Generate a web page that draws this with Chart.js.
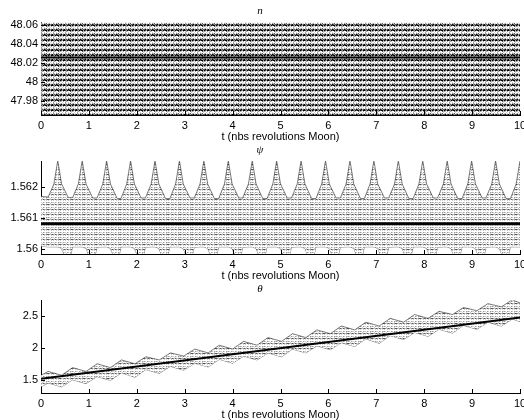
<!DOCTYPE html>
<html>
<head>
<meta charset="utf-8">
<script src="https://cdn.jsdelivr.net/npm/chart.js@4"></script>
<style>
html, body { margin: 0; width: 524px; height: 420px; overflow: hidden; background: #fff; }
.plot { position: absolute; left: 0; width: 524px; height: 142px; }
</style>
</head>
<body>
<div class="plot" style="top:0"><canvas id="c1" width="524" height="142"></canvas></div>
<div class="plot" style="top:139px"><canvas id="c2" width="524" height="142"></canvas></div>
<div class="plot" style="top:278px"><canvas id="c3" width="524" height="142"></canvas></div>
<script>
var xTitle = 't (nbs revolutions Moon)';
var xTicks = [0, 1, 2, 3, 4, 5, 6, 7, 8, 9, 10];
var meanT = [0, 10];

// n : band covers the whole axis
var nT = [0, 10];
var nUpper = [48.063, 48.063];
var nLower = [47.965, 47.965];
var nMean = [48.0256, 48.0256];
var nTicks = [47.98, 48, 48.02, 48.04, 48.06];

// psi : envelope of the oscillation (spikes on top, dips below)
var psiT = [0,
  0.15, 0.27, 0.35, 0.43, 0.57,
  0.66, 0.78, 0.86, 0.94, 1.08,
  1.17, 1.29, 1.37, 1.45, 1.59,
  1.67, 1.79, 1.87, 1.95, 2.09,
  2.18, 2.30, 2.38, 2.46, 2.60,
  2.69, 2.81, 2.89, 2.97, 3.11,
  3.20, 3.32, 3.40, 3.48, 3.62,
  3.71, 3.83, 3.91, 3.99, 4.13,
  4.21, 4.33, 4.41, 4.49, 4.63,
  4.72, 4.84, 4.92, 5.00, 5.14,
  5.23, 5.35, 5.43, 5.51, 5.65,
  5.74, 5.86, 5.94, 6.02, 6.16,
  6.25, 6.37, 6.45, 6.53, 6.67,
  6.75, 6.87, 6.95, 7.03, 7.17,
  7.26, 7.38, 7.46, 7.54, 7.68,
  7.77, 7.89, 7.97, 8.05, 8.19,
  8.28, 8.40, 8.48, 8.56, 8.70,
  8.79, 8.91, 8.99, 9.07, 9.21,
  9.29, 9.41, 9.49, 9.57, 9.71,
  9.80, 9.92, 10.0];
var psiUpper = [1.5617,
  1.56168, 1.5621, 1.56285, 1.5621, 1.56166,
  1.56166, 1.5621, 1.56285, 1.5621, 1.56165,
  1.56165, 1.5621, 1.56285, 1.5621, 1.56163,
  1.56163, 1.5621, 1.56285, 1.5621, 1.56165,
  1.56165, 1.5621, 1.56285, 1.5621, 1.56163,
  1.56163, 1.5621, 1.56285, 1.5621, 1.56165,
  1.56165, 1.5621, 1.56285, 1.5621, 1.56163,
  1.56163, 1.5621, 1.56285, 1.5621, 1.56165,
  1.56165, 1.5621, 1.56285, 1.5621, 1.56163,
  1.56163, 1.5621, 1.56285, 1.5621, 1.56165,
  1.56165, 1.5621, 1.56285, 1.5621, 1.56163,
  1.56163, 1.5621, 1.56285, 1.5621, 1.56165,
  1.56165, 1.5621, 1.56285, 1.5621, 1.56163,
  1.56163, 1.5621, 1.56285, 1.5621, 1.56165,
  1.56165, 1.5621, 1.56285, 1.5621, 1.56163,
  1.56163, 1.5621, 1.56285, 1.5621, 1.56165,
  1.56165, 1.5621, 1.56285, 1.5621, 1.56163,
  1.56163, 1.5621, 1.56285, 1.5621, 1.56165,
  1.56165, 1.5621, 1.56285, 1.5621, 1.56163,
  1.56163, 1.5621, 1.56285];
var psiLower = [1.5601,
  1.56008, 1.56008, 1.56008, 1.56003, 1.5595,
  1.56008, 1.56008, 1.56008, 1.56003, 1.5595,
  1.56007, 1.56008, 1.56008, 1.56003, 1.5595,
  1.56008, 1.56008, 1.56008, 1.56003, 1.5595,
  1.56007, 1.56008, 1.56008, 1.56003, 1.5595,
  1.56008, 1.56008, 1.56008, 1.56003, 1.5595,
  1.56007, 1.56008, 1.56008, 1.56003, 1.5595,
  1.56008, 1.56008, 1.56008, 1.56003, 1.5595,
  1.56007, 1.56008, 1.56008, 1.56003, 1.5595,
  1.56008, 1.56008, 1.56008, 1.56003, 1.5595,
  1.56007, 1.56008, 1.56008, 1.56003, 1.5595,
  1.56008, 1.56008, 1.56008, 1.56003, 1.5595,
  1.56007, 1.56008, 1.56008, 1.56003, 1.5595,
  1.56008, 1.56008, 1.56008, 1.56003, 1.5595,
  1.56007, 1.56008, 1.56008, 1.56003, 1.5595,
  1.56008, 1.56008, 1.56008, 1.56003, 1.5595,
  1.56007, 1.56008, 1.56008, 1.56003, 1.5595,
  1.56008, 1.56008, 1.56008, 1.56003, 1.5595,
  1.56007, 1.56008, 1.56008, 1.56003, 1.5595,
  1.56008, 1.56008, 1.56008];
var psiMean = [1.56082, 1.56082];
var psiTicks = [1.56, 1.561, 1.562];

// theta : wavy band drifting upward
var thetaT = [0, 0.15, 0.43, 0.66, 0.94, 1.17, 1.45, 1.68, 1.96, 2.19, 2.47, 2.70, 2.98, 3.21, 3.49, 3.72,
  4.00, 4.23, 4.51, 4.74, 5.02, 5.25, 5.53, 5.76, 6.04, 6.27, 6.55, 6.78, 7.06, 7.29, 7.57, 7.80,
  8.08, 8.31, 8.59, 8.82, 9.10, 9.33, 9.61, 9.84, 10];
var thetaUpper = [1.57, 1.63, 1.57, 1.69, 1.63, 1.75, 1.69, 1.81, 1.75, 1.86, 1.81, 1.92, 1.87, 1.98, 1.92, 2.04,
  1.98, 2.10, 2.04, 2.16, 2.10, 2.22, 2.16, 2.28, 2.22, 2.34, 2.28, 2.40, 2.34, 2.46, 2.40, 2.52,
  2.46, 2.57, 2.52, 2.63, 2.58, 2.69, 2.64, 2.75, 2.70];
var thetaLower = [1.39, 1.45, 1.39, 1.50, 1.44, 1.55, 1.49, 1.61, 1.54, 1.66, 1.60, 1.71, 1.65, 1.76, 1.70, 1.82,
  1.76, 1.87, 1.81, 1.92, 1.86, 1.98, 1.92, 2.03, 1.97, 2.08, 2.02, 2.14, 2.07, 2.19, 2.13, 2.24,
  2.18, 2.29, 2.23, 2.35, 2.29, 2.40, 2.34, 2.45, 2.41];
var thetaMean = [1.515, 2.475];
var thetaTicks = [1.5, 2, 2.5];

// textures for the dense bundles of curves: k black ... w white
var shades = {k: '#000', d: '#555', g: '#999', l: '#ccc', w: '#fff'};
var darkTexture = [
  'kdgkkdgkdkkg',
  'glwgwlglwwdl',
  'wwlwwgwwlwwl',
  'lgwlwglwgldw',
  'dkgdkgdgkdgd'
];
var lightTexture = [
  'dglgdgldglgd',
  'lwwlwlwwlwlw',
  'wwwwwwwwwwww',
  'glwgllwglwgl',
  'wwlwwwlwwwlw'
];

function makePattern(ctx, rows) {
  var c = document.createElement('canvas');
  c.width = rows[0].length;
  c.height = rows.length;
  var g = c.getContext('2d');
  rows.forEach(function (row, j) {
    row.split('').forEach(function (ch, i) {
      g.fillStyle = shades[ch];
      g.fillRect(i, j, 1, 1);
    });
  });
  return ctx.createPattern(c, 'repeat');
}

function pts(xs, ys) {
  return xs.map(function (x, i) { return {x: x, y: ys[i]}; });
}

// MATLAB style ticks pointing into the axes
var innerTicks = {
  id: 'innerTicks',
  afterDatasetsDraw: function (chart) {
    var ctx = chart.ctx, a = chart.chartArea, x = chart.scales.x, y = chart.scales.y;
    ctx.save();
    ctx.strokeStyle = '#000';
    ctx.lineWidth = 1;
    ctx.beginPath();
    x.ticks.forEach(function (t) {
      var px = Math.round(x.getPixelForValue(t.value)) + 0.5;
      ctx.moveTo(px, a.bottom);
      ctx.lineTo(px, a.bottom - 4);
    });
    y.ticks.forEach(function (t) {
      var py = Math.round(y.getPixelForValue(t.value)) + 0.5;
      ctx.moveTo(a.left, py);
      ctx.lineTo(a.left + 4, py);
    });
    ctx.stroke();
    ctx.restore();
  }
};

var tickFont = {family: 'Liberation Sans', size: 11};

function makeChart(id, title, t, upper, lower, mean, meanWidth, yMin, yMax, yTicks, texture, edge) {
  var ctx = document.getElementById(id).getContext('2d');
  return new Chart(ctx, {
    type: 'line',
    data: {
      datasets: [
        {data: pts(meanT, mean), borderColor: '#000', borderWidth: meanWidth, pointRadius: 0, fill: false},
        {data: pts(t, upper), borderColor: edge, borderWidth: edge ? 1 : 0, pointRadius: 0,
          fill: '+1', backgroundColor: makePattern(ctx, texture)},
        {data: pts(t, lower), borderColor: edge, borderWidth: edge ? 1 : 0, pointRadius: 0, fill: false}
      ]
    },
    options: {
      responsive: false,
      animation: false,
      devicePixelRatio: 1,
      layout: {padding: {left: 0, right: 4, top: 0, bottom: 0}},
      elements: {line: {tension: 0}},
      plugins: {
        legend: {display: false},
        tooltip: {enabled: false},
        title: {
          display: true, text: title, color: '#000',
          font: {family: 'Liberation Serif', size: 11, style: 'italic', weight: 'normal'},
          padding: {top: 5, bottom: 4}
        }
      },
      scales: {
        x: {
          type: 'linear', min: 0, max: 10,
          afterBuildTicks: function (s) { s.ticks = xTicks.map(function (v) { return {value: v}; }); },
          afterFit: function (s) { s.height = 27; s.paddingLeft = 0; s.paddingRight = 0; },
          grid: {display: true, drawOnChartArea: false, drawTicks: false},
          border: {display: true, color: '#000', width: 1},
          ticks: {color: '#000', padding: 4, maxRotation: 0, autoSkip: false, font: tickFont,
            callback: function (v) { return String(v); }},
          title: {display: true, text: xTitle, color: '#000', font: tickFont, padding: {top: 0, bottom: -2}}
        },
        y: {
          min: yMin, max: yMax,
          afterBuildTicks: function (s) { s.ticks = yTicks.map(function (v) { return {value: v}; }); },
          afterFit: function (s) { s.width = 41; },
          grid: {display: true, drawOnChartArea: false, drawTicks: false},
          border: {display: true, color: '#000', width: 1},
          ticks: {color: '#000', padding: 3, autoSkip: false, font: tickFont,
            callback: function (v) { return String(v); }}
        }
      }
    },
    plugins: [innerTicks]
  });
}

makeChart('c1', 'n', nT, nUpper, nLower, nMean, 2, 47.965, 48.063, nTicks, darkTexture, '');
makeChart('c2', 'ψ', psiT, psiUpper, psiLower, psiMean, 3, 1.55985, 1.56283, psiTicks, lightTexture, 'rgba(0,0,0,0.5)');
makeChart('c3', 'θ', thetaT, thetaUpper, thetaLower, thetaMean, 2, 1.293, 2.744, thetaTicks, lightTexture, 'rgba(0,0,0,0.5)');
</script>
</body>
</html>
